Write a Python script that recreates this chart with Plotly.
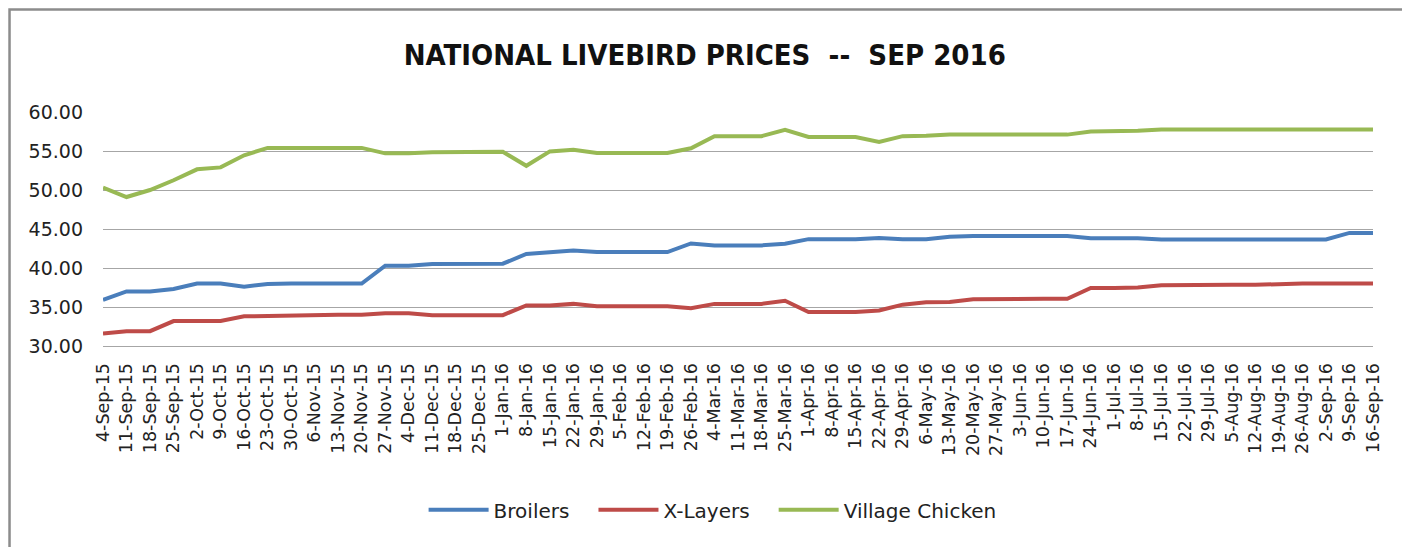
import plotly.graph_objects as go

weeks = [
    "4-Sep-15", "11-Sep-15", "18-Sep-15", "25-Sep-15", "2-Oct-15", "9-Oct-15",
    "16-Oct-15", "23-Oct-15", "30-Oct-15", "6-Nov-15", "13-Nov-15", "20-Nov-15",
    "27-Nov-15", "4-Dec-15", "11-Dec-15", "18-Dec-15", "25-Dec-15", "1-Jan-16",
    "8-Jan-16", "15-Jan-16", "22-Jan-16", "29-Jan-16", "5-Feb-16", "12-Feb-16",
    "19-Feb-16", "26-Feb-16", "4-Mar-16", "11-Mar-16", "18-Mar-16", "25-Mar-16",
    "1-Apr-16", "8-Apr-16", "15-Apr-16", "22-Apr-16", "29-Apr-16", "6-May-16",
    "13-May-16", "20-May-16", "27-May-16", "3-Jun-16", "10-Jun-16", "17-Jun-16",
    "24-Jun-16", "1-Jul-16", "8-Jul-16", "15-Jul-16", "22-Jul-16", "29-Jul-16",
    "5-Aug-16", "12-Aug-16", "19-Aug-16", "26-Aug-16", "2-Sep-16", "9-Sep-16",
    "16-Sep-16",
]

broilers = [
    35.9, 37.0, 37.0, 37.3, 38.0, 38.0, 37.6, 37.95, 38.0, 38.0, 38.0, 38.0,
    40.3, 40.3, 40.5, 40.55, 40.55, 40.55, 41.8, 42.0, 42.25, 42.05, 42.05, 42.05,
    42.05, 43.15, 42.9, 42.9, 42.9, 43.1, 43.7, 43.7, 43.7, 43.85, 43.7, 43.7,
    44.0, 44.1, 44.1, 44.1, 44.1, 44.1, 43.8, 43.8, 43.8, 43.65, 43.65, 43.65,
    43.65, 43.65, 43.65, 43.65, 43.65, 44.5, 44.5,
]

x_layers = [
    31.6, 31.9, 31.9, 33.2, 33.2, 33.2, 33.8, 33.85, 34.0, 34.0, 34.0, 34.0,
    34.2, 34.2, 33.95, 33.95, 33.95, 33.95, 35.2, 35.2, 35.4, 35.1, 35.1, 35.1,
    35.1, 34.85, 35.4, 35.4, 35.4, 35.8, 34.35, 34.35, 34.35, 34.55, 35.3, 35.6,
    35.65, 36.0, 36.05, 36.05, 36.05, 36.05, 37.45, 37.45, 37.5, 37.8, 37.85, 37.85,
    37.85, 37.85, 37.95, 38.0, 38.0, 38.0, 38.0,
]

village_chicken = [
    50.3, 49.1, 50.0, 51.25, 52.65, 52.9, 54.45, 55.4, 55.4, 55.4, 55.4, 55.4,
    54.7, 54.7, 54.85, 54.9, 54.9, 54.9, 53.1, 54.95, 55.15, 54.75, 54.75, 54.75,
    54.75, 55.35, 56.9, 56.9, 56.9, 57.7, 56.8, 56.8, 56.8, 56.15, 56.9, 56.95,
    57.1, 57.1, 57.1, 57.1, 57.1, 57.1, 57.5, 57.5, 57.6, 57.75, 57.75, 57.75,
    57.75, 57.75, 57.75, 57.75, 57.75, 57.75, 57.75,
]

# trailing nbsp widens the gap between legend entries
series = [
    ("Broilers\u00a0\u00a0\u00a0", broilers, "#4a7ebb"),
    ("X-Layers\u00a0\u00a0\u00a0", x_layers, "#be4b48"),
    ("Village Chicken", village_chicken, "#98b954"),
]

fig = go.Figure()
for name, vals, color in series:
    fig.add_trace(go.Scatter(x=weeks, y=vals, name=name, mode="lines",
                             line=dict(color=color, width=4)))

grid = "#a6a6a6"
# page body has an 8px margin, so the figure is sized to fit inside the window
fig.update_layout(
    width=1402, height=539,
    margin=dict(l=95, r=37, t=104, b=201),
    paper_bgcolor="white", plot_bgcolor="white",
    font=dict(family="DejaVu Sans, sans-serif", color="#404040"),
    title=dict(
        text="<b>NATIONAL LIVEBIRD PRICES \u00a0-- \u00a0SEP 2016</b>",
        x=0.497, xanchor="center", y=0.913, yanchor="middle", yref="container",
        font=dict(family="DejaVu Sans Condensed, Liberation Sans Narrow, DejaVu Sans",
                  size=29, color="#111111"),
    ),
    showlegend=True,
    legend=dict(orientation="h", x=0.48, xanchor="center", y=-0.70, yanchor="middle",
                font=dict(size=20, color="#222222"), itemwidth=60,
                traceorder="normal"),
    xaxis=dict(type="category", range=[0, len(weeks) - 1], tickangle=-90,
               showgrid=False, showline=True, linecolor=grid, linewidth=1,
               ticks="", ticklabelstandoff=9,
               tickfont=dict(size=17.5, color="#222222")),
    yaxis=dict(range=[30, 60], dtick=5, tickformat=".2f", showgrid=True,
               gridcolor=grid, gridwidth=1, zeroline=False, showline=False,
               ticks="", ticklabelstandoff=19,
               tickfont=dict(size=19, color="#222222")),
    shapes=[dict(type="rect", xref="paper", yref="paper",
                 x0=-0.0736, x1=1.026, y0=-0.95, y1=1.438,
                 line=dict(color="#8c8c8c", width=2.5), layer="below")],
)

fig.write_html("out.html")
